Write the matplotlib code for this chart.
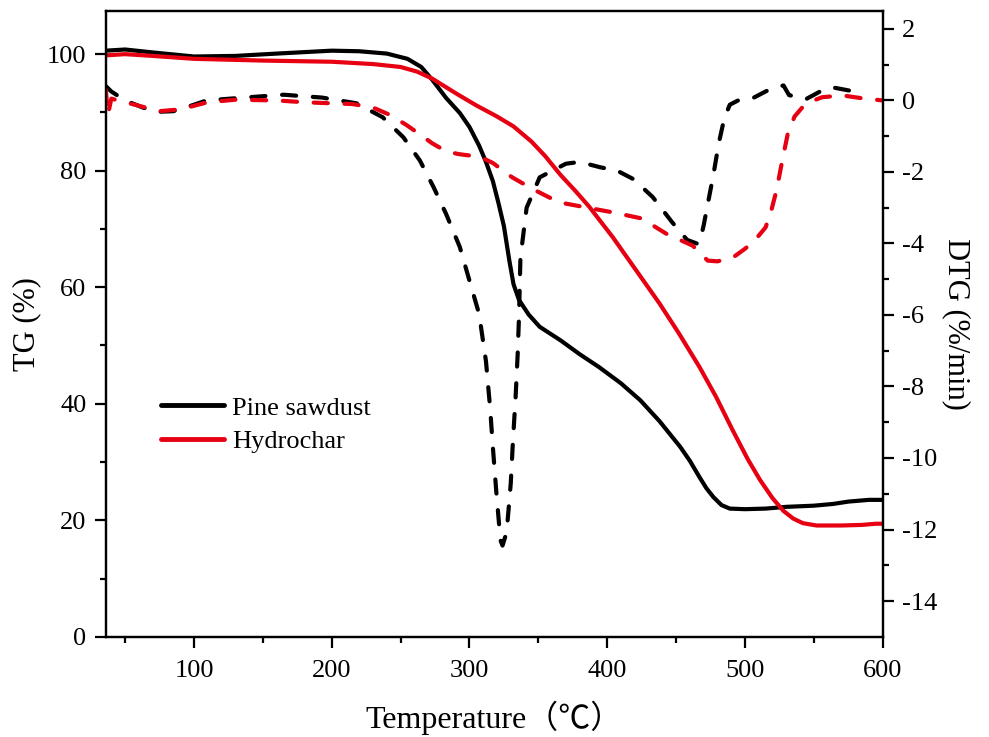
import matplotlib.pyplot as plt

plt.rcParams['font.family'] = ['Liberation Serif', 'Noto Sans CJK SC']
plt.rcParams['axes.unicode_minus'] = False

# TG curves (mass %, left axis)
t_pine_tg = [36, 50, 70, 100, 130, 160, 200, 220, 240, 255, 265, 273, 283, 293, 300, 307,
             312, 317, 321, 325, 329, 332, 336, 343, 351, 366, 380, 394, 410, 424, 438, 453,
             460, 467, 472, 477, 483, 489, 500, 515, 530, 550, 564, 575, 590, 600]
tg_pine = [100.6, 100.8, 100.3, 99.6, 99.7, 100.1, 100.6, 100.5, 100.1, 99.2, 97.8, 95.6,
           92.5, 89.9, 87.5, 84.3, 81.5, 78.2, 74.5, 70.5, 64.5, 60.5, 57.8, 55.3, 53.2, 50.9,
           48.5, 46.3, 43.5, 40.6, 37.0, 32.6, 30.2, 27.4, 25.5, 24.0, 22.6, 22.0, 21.9, 22.0,
           22.3, 22.5, 22.8, 23.2, 23.5, 23.5]

t_hc_tg = [36, 50, 70, 100, 150, 200, 230, 250, 262, 273, 290, 305, 320, 332, 345, 355, 366,
           377, 387, 404, 421, 438, 452, 467, 479, 491, 502, 511, 520, 528, 535, 542, 552,
           570, 585, 595, 600]
tg_hc = [99.8, 100.0, 99.7, 99.2, 98.9, 98.7, 98.3, 97.8, 97.0, 95.8, 93.3, 91.2, 89.3, 87.6,
         85.0, 82.5, 79.3, 76.5, 73.8, 68.6, 62.9, 57.2, 52.1, 46.3, 41.2, 35.5, 30.5, 26.9,
         23.8, 21.6, 20.3, 19.5, 19.1, 19.1, 19.2, 19.4, 19.4]

# DTG curves (%/min, right axis)
t_pine_dtg = [36, 40, 50, 63, 73, 85, 100, 109, 140, 165, 193, 218, 237, 252, 264, 274, 283,
              293, 300, 307, 312, 315, 317, 319.6, 322.5, 324, 326, 327.6, 330, 331.6, 333.5,
              335, 336, 337, 341.5, 351, 370, 380, 395, 407, 419, 433, 447, 458, 465, 467,
              470, 473, 477, 481, 485, 489, 495, 505, 519, 528, 532, 544, 556, 563, 578, 582]
dtg_pine = [0.40, 0.25, 0.0, -0.2, -0.32, -0.3, -0.12, 0.0, 0.09, 0.16, 0.08, -0.08, -0.47,
            -1.03, -1.68, -2.43, -3.17, -4.1, -5.04, -5.97, -7.3, -8.6, -9.7, -11.0, -12.3,
            -12.45, -12.2, -11.8, -10.7, -9.5, -8.3, -7.1, -6.0, -4.4, -3.0, -2.15, -1.77,
            -1.72, -1.87, -1.96, -2.2, -2.7, -3.4, -3.9, -4.0, -4.0, -3.5, -2.9, -2.1, -1.2,
            -0.5, -0.12, 0.0, 0.05, 0.33, 0.42, 0.15, 0.03, 0.28, 0.37, 0.26, 0.22]

t_hc_dtg = [36, 37.5, 40, 55, 75, 90, 110, 130, 160, 180, 200, 215, 230, 242, 254, 264, 273,
            283, 292, 302, 310, 317, 331, 346, 365, 390, 404, 425, 443, 462, 473, 480, 491,
            500, 507, 515, 519, 523, 527, 531, 536, 542, 550, 556, 571, 585, 600]
dtg_hc = [0.3, -0.4, 0.05, -0.1, -0.3, -0.25, -0.05, 0.02, 0.0, -0.05, -0.08, -0.1, -0.2,
          -0.4, -0.68, -0.95, -1.2, -1.42, -1.5, -1.55, -1.62, -1.75, -2.15, -2.48, -2.85,
          -3.03, -3.13, -3.3, -3.73, -4.06, -4.48, -4.5, -4.4, -4.15, -3.92, -3.55, -3.1,
          -2.5, -1.7, -0.95, -0.45, -0.18, 0.0, 0.09, 0.14, 0.06, 0.0]

RED = '#e60012'
fig = plt.figure(figsize=(9.89, 7.37), dpi=100)
ax = fig.add_axes([0.107, 0.136, 0.7855, 0.849])
ax2 = ax.twinx()

LW = 3.0
ax.plot(t_pine_tg, tg_pine, color='black', lw=LW, label='Pine sawdust', solid_capstyle='round')
ax.plot(t_hc_tg, tg_hc, color=RED, lw=LW, label='Hydrochar', solid_capstyle='round')

dash = (3.4, 4.0)
ax2.plot(t_pine_dtg, dtg_pine, color='black', lw=LW, dashes=dash, dash_capstyle='round')
ax2.plot(t_hc_dtg, dtg_hc, color=RED, lw=LW, dashes=dash, dash_capstyle='round')

ax.set_xlim(36, 600)
ax.set_ylim(0, 107.4)
ax2.set_ylim(-15, 2.5)

ax.set_xticks([100, 200, 300, 400, 500, 600])
ax.set_xticks(range(50, 600, 100), minor=True)
ax.set_yticks([0, 20, 40, 60, 80, 100])
ax.set_yticks([10, 30, 50, 70, 90], minor=True)
ax2.set_yticks(list(range(-14, 3, 2)))
ax2.set_yticks(list(range(-13, 2, 2)), minor=True)

for a in (ax, ax2):
    for s in a.spines.values():
        s.set_linewidth(1.6)
    a.tick_params(which='major', direction='out', length=8, width=1.6, labelsize=19, pad=6)
    a.tick_params(which='minor', direction='out', length=4.5, width=1.6)
ax.tick_params(axis='x', pad=9)

ax.set_xlabel('Temperature（℃）', fontsize=23, labelpad=13)
ax.set_ylabel('TG (%)', fontsize=22, labelpad=4)
ax2.set_ylabel('DTG (%/min)', fontsize=22, rotation=270, labelpad=24)

leg = ax.legend(loc='center left', bbox_to_anchor=(0.04, 0.339), frameon=False,
                fontsize=19, handlelength=2.4, handletextpad=0.3, labelspacing=0.38)
for line in leg.get_lines():
    line.set_linewidth(3.5)

fig.savefig('out.png', dpi=100)
